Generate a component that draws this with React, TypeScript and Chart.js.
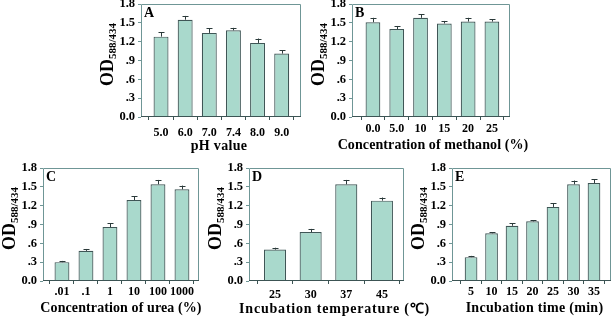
import React, { useEffect, useRef } from "react";
import { Chart, registerables } from "chart.js";

Chart.register(...registerables);

// ---- Data ----
const phLabels = ["5.0", "6.0", "7.0", "7.4", "8.0", "9.0"];
const phValues = [1.28, 1.55, 1.34, 1.38, 1.18, 1.01];
const phErrors = [0.07, 0.06, 0.07, 0.04, 0.07, 0.05];

const methanolLabels = ["0.0", "5.0", "10", "15", "20", "25"];
const methanolValues = [1.51, 1.4, 1.58, 1.49, 1.52, 1.52];
const methanolErrors = [0.07, 0.05, 0.06, 0.04, 0.06, 0.04];

const ureaLabels = [".01", ".1", "1", "10", "100", "1000"];
const ureaValues = [0.3, 0.48, 0.86, 1.29, 1.54, 1.46];
const ureaErrors = [0.02, 0.03, 0.06, 0.06, 0.07, 0.06];

const tempLabels = ["25", "30", "37", "45"];
const tempValues = [0.5, 0.78, 1.54, 1.28];
const tempErrors = [0.03, 0.05, 0.07, 0.05];

const timeLabels = ["5", "10", "15", "20", "25", "30", "35"];
const timeValues = [0.38, 0.76, 0.88, 0.95, 1.18, 1.54, 1.56];
const timeErrors = [0.02, 0.02, 0.04, 0.015, 0.06, 0.06, 0.06];

const yMin = 0;
const yMax = 1.8;
const yStep = 0.3;

const FONT = '"Liberation Serif", "Times New Roman", serif';
const BAR_FILL = "#a9d9cc";
const BAR_BORDER = "#3f5656";
const FRAME = "#6f9696";
const AXIS = "#3c5454";

type PanelDef = {
  letter: string;
  labels: string[];
  values: number[];
  errors: number[];
  xTitle: string;
  frame: { l: number; t: number; r: number; b: number };
  xMin: number;
  xMax: number;
  tickPad: number;
  titleOff: number;
  titleSpacing: number;
  titleShift: number;
};

const panels: PanelDef[] = [
  { letter: "A", labels: phLabels, values: phValues, errors: phErrors, xTitle: "pH value",
    frame: { l: 141, t: 4, r: 301, b: 117 }, xMin: 0.17, xMax: 6.8, tickPad: 6.5, titleOff: 29, titleSpacing: 0.3, titleShift: -2 },
  { letter: "B", labels: methanolLabels, values: methanolValues, errors: methanolErrors, xTitle: "Concentration of methanol (%)",
    frame: { l: 352, t: 4, r: 510, b: 117 }, xMin: 0.12, xMax: 6.76, tickPad: 3, titleOff: 28, titleSpacing: 0.1, titleShift: 2 },
  { letter: "C", labels: ureaLabels, values: ureaValues, errors: ureaErrors, xTitle: "Concentration of urea (%)",
    frame: { l: 43, t: 168, r: 199, b: 281 }, xMin: 0.21, xMax: 6.71, tickPad: 2, titleOff: 27, titleSpacing: 0.1, titleShift: 0 },
  { letter: "D", labels: tempLabels, values: tempValues, errors: tempErrors, xTitle: "Incubation temperature (\u2103)",
    frame: { l: 249, t: 168, r: 404, b: 281 }, xMin: 0.27, xMax: 4.62, tickPad: 4.5, titleOff: 28, titleSpacing: 0.8, titleShift: 8 },
  { letter: "E", labels: timeLabels, values: timeValues, errors: timeErrors, xTitle: "Incubation time (min)",
    frame: { l: 452, t: 168, r: 611, b: 281 }, xMin: 0.07, xMax: 7.83, tickPad: 2, titleOff: 27, titleSpacing: 0.3, titleShift: 3 },
];

const PAD_L = 15;
const Y_W = 45;
const PAD_T = 10;
const PAD_R = 40;
const X_H = 40;

function Panel({ p }: { p: PanelDef }) {
  const ref = useRef<HTMLCanvasElement | null>(null);
  const { l, t, r, b } = p.frame;
  const cx = l - PAD_L - Y_W;
  const cy = t - PAD_T;
  const cw = r - l + PAD_L + Y_W + PAD_R;
  const ch = b - t + PAD_T + X_H;

  useEffect(() => {
    if (!ref.current) return;
    const overlay = {
      id: "overlay" + p.letter,
      afterDatasetsDraw(chart: any) {
        const ctx = chart.ctx;
        const meta = chart.getDatasetMeta(0);
        const ys = chart.scales.y;
        ctx.save();
        ctx.strokeStyle = "#2b3a3a";
        ctx.lineWidth = 1;
        meta.data.forEach((bar: any, i: number) => {
          const v = p.values[i];
          const e = p.errors[i];
          const x = Math.round(bar.x) + 0.5;
          const y0 = ys.getPixelForValue(v);
          const y1 = ys.getPixelForValue(v + e);
          ctx.beginPath();
          ctx.moveTo(x, y0);
          ctx.lineTo(x, y1);
          ctx.moveTo(x - 3, Math.round(y1) + 0.5);
          ctx.lineTo(x + 3, Math.round(y1) + 0.5);
          ctx.stroke();
        });
        ctx.restore();
      },
      afterDraw(chart: any) {
        const ctx = chart.ctx;
        const ca = chart.chartArea;
        ctx.save();
        // frame
        ctx.lineWidth = 1;
        ctx.strokeStyle = FRAME;
        ctx.beginPath();
        ctx.moveTo(ca.left + 0.5, ca.bottom);
        ctx.lineTo(ca.left + 0.5, ca.top + 0.5);
        ctx.lineTo(ca.right - 0.5, ca.top + 0.5);
        ctx.lineTo(ca.right - 0.5, ca.bottom);
        ctx.stroke();
        ctx.strokeStyle = AXIS;
        ctx.beginPath();
        ctx.moveTo(ca.left, ca.bottom - 0.5);
        ctx.lineTo(ca.right, ca.bottom - 0.5);
        ctx.stroke();
        // panel letter
        ctx.fillStyle = "#000";
        ctx.font = "bold 14px " + FONT;
        ctx.textAlign = "left";
        ctx.textBaseline = "middle";
        ctx.fillText(p.letter, ca.left + 3, ca.top + 9);
        // x title
        ctx.font = "bold 14px " + FONT;
        ctx.textAlign = "center";
        (ctx as any).letterSpacing = p.titleSpacing + "px";
        ctx.fillText(p.xTitle, (ca.left + ca.right) / 2 + p.titleShift, ca.bottom + p.titleOff);
        (ctx as any).letterSpacing = "0px";
        // y title with subscript
        ctx.translate(ca.left - 28, (ca.top + ca.bottom) / 2 - 6);
        ctx.rotate(-Math.PI / 2);
        ctx.textAlign = "left";
        ctx.textBaseline = "alphabetic";
        ctx.font = "bold 18px " + FONT;
        const w1 = ctx.measureText("OD").width;
        ctx.font = "bold 11px " + FONT;
        const w2 = ctx.measureText("588/434").width;
        const start = -(w1 + w2) / 2;
        ctx.font = "bold 18px " + FONT;
        ctx.fillText("OD", start, 0);
        ctx.font = "bold 11px " + FONT;
        ctx.fillText("588/434", start + w1, 3);
        ctx.restore();
      },
    };

    const chart = new Chart(ref.current, {
      type: "bar",
      data: {
        datasets: [
          {
            data: p.values.map((v, i) => ({ x: i + 1, y: v })),
            backgroundColor: BAR_FILL,
            borderColor: BAR_BORDER,
            borderWidth: 1.2,
            categoryPercentage: 1,
            barPercentage: 0.62,
          } as any,
        ],
      },
      options: {
        animation: false,
        responsive: false,
        events: [],
        layout: { padding: { left: PAD_L, top: PAD_T, right: PAD_R, bottom: 0 } },
        plugins: { legend: { display: false }, tooltip: { enabled: false } },
        scales: {
          x: {
            type: "linear",
            min: p.xMin,
            max: p.xMax,
            offset: false,
            grid: { drawOnChartArea: false, drawTicks: true, tickLength: 3, color: AXIS, lineWidth: 1 },
            border: { display: false },
            ticks: {
              autoSkip: false,
              maxRotation: 0,
              padding: p.tickPad,
              color: "#000",
              font: { family: FONT, size: 12, weight: "bold", lineHeight: 1 },
              callback: (v: any) => p.labels[Math.round(Number(v)) - 1] ?? "",
            },
            afterBuildTicks: (s: any) => {
              s.ticks = p.labels.map((_, i) => ({ value: i + 1 }));
            },
            afterFit: (s: any) => {
              s.height = X_H;
              s.paddingLeft = 0;
              s.paddingRight = 0;
            },
          } as any,
          y: {
            min: yMin,
            max: yMax,
            grid: { drawOnChartArea: false, drawTicks: true, tickLength: 3, color: FRAME, lineWidth: 1 },
            border: { display: false },
            ticks: {
              stepSize: yStep,
              padding: 3,
              color: "#000",
              font: { family: FONT, size: 12.5, weight: "bold", lineHeight: 1 },
              callback: (v: any) => {
                const n = Math.round(Number(v) * 10) / 10;
                if (n === 0) return "0.0";
                const s = n.toFixed(1);
                return n < 1 ? s.slice(1) : s;
              },
            },
            afterFit: (s: any) => {
              s.width = Y_W;
              s.paddingTop = 0;
              s.paddingBottom = 0;
            },
          } as any,
        },
      } as any,
      plugins: [overlay],
    });
    return () => chart.destroy();
  }, []);

  return (
    <canvas
      ref={ref}
      width={cw}
      height={ch}
      style={{ position: "absolute", left: cx, top: cy, width: cw, height: ch }}
    />
  );
}

export default function App() {
  return (
    <div
      style={{
        position: "fixed",
        left: 0,
        top: 0,
        width: 614,
        height: 318,
        background: "#fff",
        overflow: "hidden",
      }}
    >
      {panels.map((p) => (
        <Panel key={p.letter} p={p} />
      ))}
    </div>
  );
}
